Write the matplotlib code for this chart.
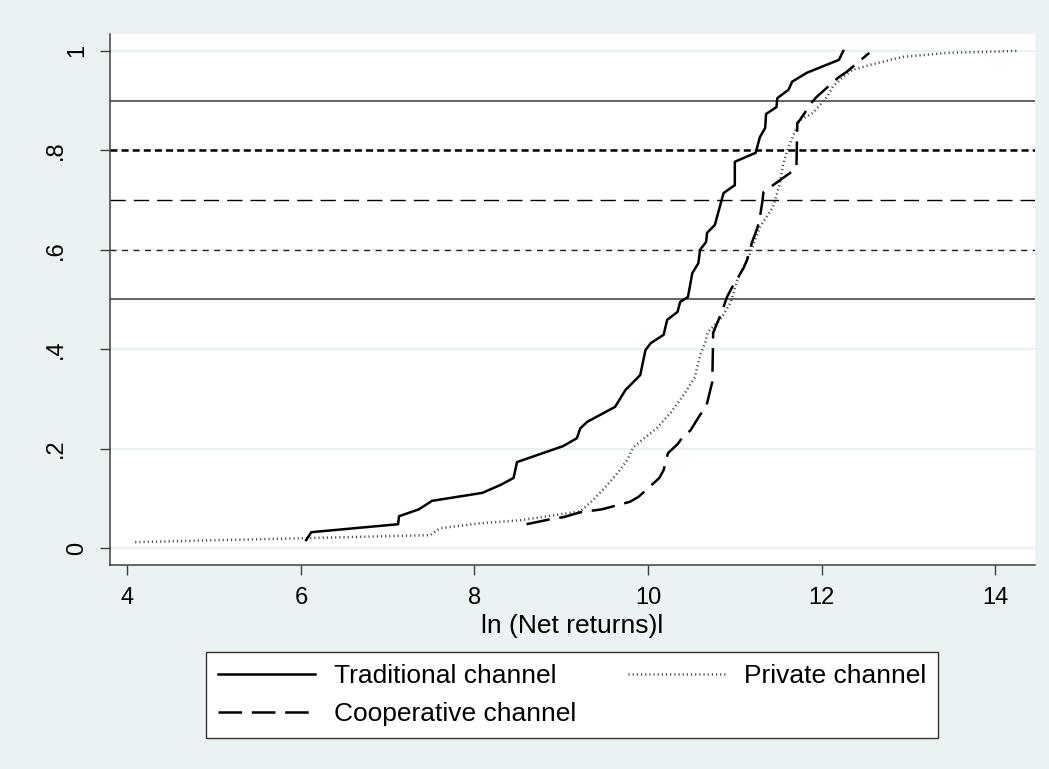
"""
Cumulative distribution of ln(net returns) by marketing channel,
drawn in a Stata s2color look.
"""
import matplotlib
matplotlib.use("Agg")
import matplotlib.pyplot as plt
from matplotlib.lines import Line2D
from matplotlib.transforms import blended_transform_factory, ScaledTranslation

plt.rcParams['font.family'] = ['Liberation Sans', 'DejaVu Sans']
plt.rcParams['lines.scale_dashes'] = False

# ============================================
# DATA
# ============================================

trad_x = [6.06, 6.12, 7.12, 7.13, 7.36, 7.51, 8.09, 8.30, 8.45, 8.49,
          9.02, 9.18, 9.22, 9.30, 9.62, 9.74, 9.91, 9.97, 10.03, 10.18,
          10.22, 10.34, 10.37, 10.46, 10.51, 10.58, 10.60, 10.67, 10.68, 10.77,
          10.87, 11.00, 11.00, 11.24, 11.29, 11.35, 11.36, 11.48, 11.49, 11.62,
          11.66, 11.83, 12.20, 12.25]
trad_y = [0.016, 0.032, 0.048, 0.064, 0.078, 0.095, 0.111, 0.127, 0.141, 0.173,
          0.205, 0.221, 0.241, 0.254, 0.284, 0.318, 0.348, 0.398, 0.412, 0.429,
          0.459, 0.475, 0.495, 0.505, 0.553, 0.573, 0.600, 0.616, 0.634, 0.650,
          0.714, 0.730, 0.777, 0.795, 0.827, 0.845, 0.873, 0.887, 0.905, 0.922,
          0.938, 0.956, 0.982, 1.0]

coop_x = [8.60, 8.93, 9.02, 9.22, 9.47, 9.79, 9.89, 10.13, 10.18, 10.23,
          10.34, 10.39, 10.49, 10.60, 10.67, 10.74, 10.75, 10.75, 10.85, 10.91,
          10.97, 11.10, 11.14, 11.20, 11.26, 11.29, 11.32, 11.33, 11.64, 11.71,
          11.72, 11.75, 11.89, 11.94, 12.19, 12.29, 12.55]
coop_y = [0.048, 0.060, 0.062, 0.072, 0.078, 0.093, 0.103, 0.141, 0.157, 0.191,
          0.209, 0.221, 0.237, 0.268, 0.284, 0.334, 0.419, 0.433, 0.475, 0.505,
          0.525, 0.563, 0.579, 0.616, 0.644, 0.666, 0.700, 0.716, 0.755, 0.765,
          0.855, 0.861, 0.897, 0.907, 0.946, 0.958, 0.996]

priv_x = [4.09, 6.06, 7.49, 7.57, 7.61, 8.07, 8.53, 9.22, 9.37, 9.51,
          9.65, 9.76, 9.83, 10.10, 10.26, 10.41, 10.54, 10.60, 10.66, 10.69,
          10.83, 10.95, 11.03, 11.18, 11.29, 11.44, 11.52, 11.56, 11.62, 11.70,
          11.75, 11.90, 12.06, 12.13, 12.25, 12.36, 12.56, 12.79, 12.94, 13.45,
          14.25]
priv_y = [0.012, 0.020, 0.026, 0.036, 0.040, 0.050, 0.056, 0.074, 0.097, 0.123,
          0.151, 0.177, 0.203, 0.241, 0.272, 0.308, 0.344, 0.388, 0.414, 0.435,
          0.459, 0.493, 0.539, 0.594, 0.646, 0.686, 0.734, 0.775, 0.807, 0.841,
          0.861, 0.875, 0.907, 0.928, 0.948, 0.962, 0.972, 0.982, 0.988, 0.996,
          1.0]

series_labels = ["Traditional channel", "Cooperative channel", "Private channel"]

ref_levels = [0.9, 0.8, 0.7, 0.6, 0.5]

xticks = [4, 6, 8, 10, 12, 14]
yticks = [0, 0.2, 0.4, 0.6, 0.8, 1]
ytick_labels = ["0", ".2", ".4", ".6", ".8", "1"]

x_title = "ln (Net returns)l"

# ============================================
# STYLE
# ============================================

BG = "#EAF2F3"
AXIS = "#404040"

# style for each horizontal reference line (same order as ref_levels)
ref_styles = [
    dict(color="#4a4a4a", lw=1.2, ls="-"),
    dict(color="black", lw=1.8, ls=(0, (5, 3))),
    dict(color="black", lw=1.0, ls=(0, (11, 5.8))),
    dict(color="#222222", lw=1.0, ls=(0, (4.3, 4))),
    dict(color="#4a4a4a", lw=1.2, ls="-"),
]

trad_style = dict(color="black", lw=1.8, ls="-")
coop_style = dict(color="black", lw=1.8, ls=(0, (17, 7)))
priv_style = dict(color="#454545", lw=1.8, ls=(0, (0.8, 2.2)))

TICK_FS = 17

# ============================================
# FIGURE
# ============================================

fig = plt.figure(figsize=(10.49, 7.69), dpi=100, facecolor=BG)
ax = fig.add_axes([0.1049, 0.2653, 0.8818, 0.6905])
ax.set_facecolor("white")

ax.set_xlim(3.80, 14.46)
ax.set_ylim(-0.034, 1.034)

# light horizontal grid
ax.set_yticks(yticks)
ax.yaxis.grid(True, color=BG, lw=1.6, zorder=0)
ax.set_axisbelow(True)

for level, st in zip(ref_levels, ref_styles):
    ax.axhline(level, zorder=1, **st)

ax.plot(trad_x, trad_y, zorder=3, **trad_style)
ax.plot(coop_x, coop_y, zorder=3, **coop_style)
ax.plot(priv_x, priv_y, zorder=2, **priv_style)

# axes frame: only left and bottom like Stata
for side in ("top", "right"):
    ax.spines[side].set_visible(False)
for side in ("left", "bottom"):
    ax.spines[side].set_color(AXIS)
    ax.spines[side].set_linewidth(1.1)

ax.set_xticks(xticks)
ax.set_xticklabels([str(t) for t in xticks])
ax.tick_params(axis="x", length=7.5, width=1, color=AXIS, pad=8, labelsize=TICK_FS)
ax.tick_params(axis="y", length=7.5, width=1, color=AXIS, labelleft=False)

# y labels are rotated; Stata puts one-char and two-char labels at different offsets
trans = blended_transform_factory(ax.transAxes, ax.transData)
for v, lab in zip(yticks, ytick_labels):
    dx = -16 if len(lab) == 1 else -31
    ax.text(0, v, lab, rotation=90, ha="right", va="center", fontsize=TICK_FS,
            transform=trans + ScaledTranslation(dx / 72, 0, fig.dpi_scale_trans))

ax.set_xlabel(x_title, fontsize=19, labelpad=4)

# ============================================
# LEGEND
# ============================================

handles = [
    Line2D([], [], **trad_style),
    Line2D([], [], **coop_style),
    Line2D([], [], **priv_style),
]
leg = fig.legend(handles, series_labels, ncol=2, mode="expand", loc="center",
                 bbox_to_anchor=(0.1964, 0.0403, 0.6978, 0.1118),
                 bbox_transform=fig.transFigure, fontsize=19,
                 frameon=True, fancybox=False, shadow=False,
                 edgecolor="#333333", facecolor="white", framealpha=1,
                 handlelength=3.7, handletextpad=0.7, labelspacing=0.53,
                 borderpad=0.44, borderaxespad=0)
leg.get_frame().set_linewidth(1.0)

fig.savefig("out.png", dpi=100, facecolor=BG)
plt.close(fig)
